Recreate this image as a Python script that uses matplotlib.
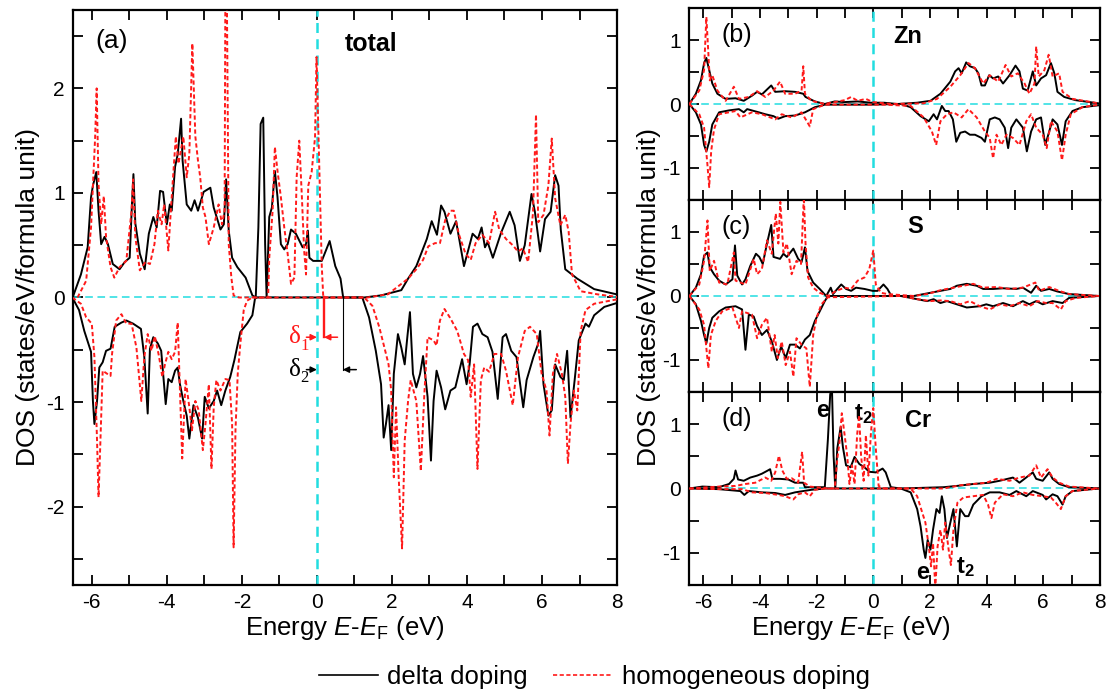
import matplotlib
matplotlib.use('Agg')
import matplotlib.pyplot as plt
from matplotlib.ticker import MultipleLocator
from matplotlib.lines import Line2D

plt.rcParams['font.family'] = ['Liberation Sans', 'DejaVu Sans']
plt.rcParams['axes.unicode_minus'] = False
plt.rcParams['mathtext.fontset'] = 'custom'
plt.rcParams['mathtext.rm'] = 'Liberation Sans'
plt.rcParams['mathtext.it'] = 'Liberation Sans:italic'
plt.rcParams['mathtext.bf'] = 'Liberation Sans:bold'

# ---- DOS curves: (energy in eV, DOS) ----
# panel (a) total
a_delta_up = [(-6.51, 0), (-6.29, 0.22), (-6.11, 0.48), (-6.02, 0.96), (-5.97, 1.07), (-5.88, 1.20),
              (-5.82, 0.83), (-5.75, 0.51), (-5.66, 0.58), (-5.57, 0.51), (-5.44, 0.32), (-5.26, 0.27),
              (-5.12, 0.34), (-4.99, 0.38), (-4.93, 0.89), (-4.89, 1.18), (-4.84, 0.71), (-4.72, 0.42),
              (-4.59, 0.27), (-4.48, 0.61), (-4.36, 0.77), (-4.27, 0.67), (-4.18, 1.02), (-4.10, 1.01),
              (-4.00, 0.70), (-3.92, 0.89), (-3.87, 0.83), (-3.78, 1.25), (-3.71, 1.37), (-3.62, 1.71),
              (-3.58, 1.31), (-3.47, 0.89), (-3.35, 0.83), (-3.26, 0.93), (-3.17, 0.83), (-3.02, 1.01),
              (-2.84, 1.05), (-2.75, 0.86), (-2.57, 0.65), (-2.48, 0.70), (-2.42, 1.13), (-2.35, 0.64),
              (-2.26, 0.38), (-2.12, 0.29), (-1.90, 0.19), (-1.72, 0.02), (-1.63, 0), (-1.56, 0.67),
              (-1.50, 1.66), (-1.43, 1.72), (-1.38, 0.51), (-1.34, 0), (-1.27, 0.77), (-1.20, 0.86),
              (-1.12, 1.21), (-1.05, 0.96), (-0.96, 0.51), (-0.87, 0.46), (-0.78, 0.51), (-0.69, 0.65),
              (-0.56, 0.61), (-0.38, 0.48), (-0.29, 0.51), (-0.24, 0.64), (-0.20, 0.38), (-0.10, 0.35),
              (0.13, 0.35), (0.34, 0.54), (0.49, 0.30), (0.63, 0.18), (0.70, 0), (1.26, 0), (1.71, 0.02),
              (2.25, 0.07), (2.43, 0.18), (2.65, 0.30), (2.93, 0.56), (3.06, 0.73), (3.20, 0.60),
              (3.31, 0.88), (3.40, 0.82), (3.56, 0.61), (3.71, 0.73), (3.92, 0.30), (4.15, 0.61),
              (4.29, 0.56), (4.39, 0.67), (4.48, 0.48), (4.55, 0.53), (4.69, 0.38), (4.91, 0.62),
              (5.14, 0.82), (5.27, 0.69), (5.41, 0.35), (5.54, 0.50), (5.72, 0.99), (5.81, 0.82),
              (5.95, 0.44), (6.08, 0.75), (6.23, 0.82), (6.35, 1.17), (6.44, 1.07), (6.50, 0.65),
              (6.62, 0.27), (6.94, 0.18), (7.39, 0.08), (8.11, 0.02)]
a_delta_dn = [(-6.52, 0), (-6.34, -0.12), (-6.20, -0.32), (-6.02, -0.52), (-5.97, -0.99), (-5.93, -1.21),
              (-5.86, -0.99), (-5.80, -0.67), (-5.71, -0.62), (-5.62, -0.51), (-5.50, -0.49), (-5.39, -0.28),
              (-5.21, -0.24), (-5.08, -0.22), (-4.90, -0.25), (-4.69, -0.30), (-4.60, -0.57), (-4.51, -1.11),
              (-4.45, -0.49), (-4.36, -0.38), (-4.24, -0.44), (-4.15, -0.51), (-4.03, -1.02), (-3.96, -0.78),
              (-3.87, -0.81), (-3.78, -0.70), (-3.71, -0.67), (-3.65, -0.83), (-3.56, -0.99), (-3.47, -1.13),
              (-3.40, -1.35), (-3.29, -1.03), (-3.17, -1.15), (-3.06, -1.35), (-2.99, -0.95), (-2.88, -1.06),
              (-2.75, -0.99), (-2.66, -0.89), (-2.55, -1.03), (-2.44, -0.89), (-2.31, -0.76), (-2.20, -0.60),
              (-2.13, -0.48), (-2.04, -0.33), (-1.86, -0.25), (-1.72, -0.17), (-1.65, -0.01), (-1.59, 0),
              (1.21, 0), (1.39, -0.19), (1.57, -0.51), (1.71, -0.83), (1.78, -1.34), (1.84, -1.21),
              (1.91, -1.03), (1.98, -1.46), (2.05, -0.73), (2.16, -0.35), (2.25, -0.48), (2.34, -0.64),
              (2.41, -0.38), (2.48, -0.14), (2.56, -0.73), (2.65, -0.86), (2.75, -0.73), (2.83, -0.56),
              (2.95, -0.95), (3.04, -1.56), (3.11, -0.99), (3.19, -0.70), (3.31, -0.86), (3.42, -1.07),
              (3.56, -0.89), (3.69, -0.86), (3.87, -0.59), (3.99, -0.83), (4.07, -0.64), (4.16, -0.28),
              (4.28, -0.25), (4.41, -0.35), (4.55, -0.38), (4.68, -0.52), (4.82, -0.97), (4.95, -0.38),
              (5.04, -0.35), (5.18, -0.51), (5.32, -0.57), (5.50, -1.05), (5.59, -0.79), (5.77, -0.57),
              (5.90, -0.44), (5.95, -0.32), (6.04, -0.83), (6.17, -1.13), (6.26, -1.08), (6.35, -0.64),
              (6.49, -0.76), (6.58, -0.79), (6.67, -0.51), (6.76, -1.15), (6.87, -0.79), (6.98, -0.41),
              (7.16, -0.25), (7.25, -0.28), (7.39, -0.17), (7.66, -0.09), (8.11, -0.04)]
a_homo_up = [(-6.38, 0), (-6.15, 0.16), (-6.02, 0.67), (-5.91, 1.54), (-5.87, 2.0), (-5.82, 1.08),
             (-5.75, 0.70), (-5.68, 0.97), (-5.62, 0.58), (-5.50, 0.29), (-5.40, 0.19), (-5.26, 0.29),
             (-5.08, 0.35), (-4.94, 0.83), (-4.90, 1.13), (-4.84, 0.58), (-4.72, 0.26), (-4.57, 0.34),
             (-4.45, 0.32), (-4.33, 0.51), (-4.24, 0.83), (-4.14, 0.70), (-4.07, 0.89), (-3.96, 0.45),
             (-3.87, 0.96), (-3.76, 1.54), (-3.69, 1.28), (-3.56, 1.54), (-3.47, 1.15), (-3.40, 1.37),
             (-3.32, 2.43), (-3.24, 1.54), (-3.17, 1.31), (-3.11, 1.15), (-3.04, 0.86), (-2.97, 0.77),
             (-2.88, 0.51), (-2.75, 0.67), (-2.62, 0.89), (-2.53, 0.70), (-2.46, 0.83), (-2.44, 2.9),
             (-2.40, 2.9), (-2.35, 0.51), (-2.28, 0.19), (-2.22, 0.02), (-2.08, 0), (-1.69, 0),
             (-1.30, 0), (-1.27, 0.38), (-1.18, 0.83), (-1.12, 1.44), (-1.05, 1.21), (-0.96, 0.96),
             (-0.87, 0.67), (-0.78, 0.42), (-0.69, 0.13), (-0.60, 0.19), (-0.54, 1.15), (-0.47, 1.50),
             (-0.40, 0.96), (-0.34, 0.45), (-0.29, 0.22), (-0.23, 1.07), (-0.14, 1.20), (-0.05, 1.53),
             (-0.01, 2.30), (0.06, 1.30), (0.13, 0.30), (0.17, 0), (1.35, 0), (1.89, 0.03), (2.43, 0.18),
             (2.65, 0.27), (2.83, 0.36), (2.97, 0.49), (3.15, 0.52), (3.28, 0.52), (3.42, 0.74),
             (3.56, 0.83), (3.65, 0.83), (3.78, 0.61), (3.96, 0.42), (4.10, 0.36), (4.23, 0.52),
             (4.41, 0.60), (4.59, 0.52), (4.75, 0.82), (4.86, 0.65), (5.04, 0.56), (5.22, 0.50),
             (5.36, 0.44), (5.49, 0.47), (5.63, 0.34), (5.76, 0.81), (5.84, 1.75), (5.90, 0.72),
             (6.04, 0.79), (6.17, 1.07), (6.26, 1.52), (6.35, 0.95), (6.49, 0.69), (6.62, 0.79),
             (6.71, 0.63), (6.80, 0.22), (7.03, 0.06), (7.48, 0.03), (8.11, 0)]
a_homo_dn = [(-6.52, 0), (-6.29, -0.06), (-6.15, -0.19), (-6.00, -0.25), (-5.93, -0.57), (-5.86, -1.37),
             (-5.82, -1.91), (-5.77, -1.37), (-5.71, -0.70), (-5.59, -0.73), (-5.50, -0.75), (-5.46, -0.54),
             (-5.35, -0.22), (-5.21, -0.16), (-5.08, -0.25), (-4.94, -0.25), (-4.81, -0.48), (-4.68, -0.99),
             (-4.60, -0.57), (-4.51, -0.35), (-4.41, -0.51), (-4.32, -0.37), (-4.21, -0.56), (-4.12, -0.76),
             (-4.05, -0.64), (-3.96, -0.52), (-3.87, -0.59), (-3.78, -0.52), (-3.71, -0.24), (-3.65, -0.89),
             (-3.59, -1.54), (-3.50, -0.78), (-3.40, -1.05), (-3.33, -1.27), (-3.24, -0.99), (-3.15, -1.08),
             (-3.04, -1.46), (-2.97, -1.21), (-2.88, -0.83), (-2.81, -1.64), (-2.75, -1.05), (-2.68, -0.79),
             (-2.57, -0.89), (-2.44, -0.78), (-2.33, -0.79), (-2.26, -1.21), (-2.22, -2.39), (-2.17, -1.27),
             (-2.11, -0.73), (-2.04, -0.44), (-1.95, -0.12), (-1.86, -0.03), (-1.72, 0), (1.26, 0),
             (1.48, -0.08), (1.66, -0.28), (1.80, -0.48), (1.91, -0.64), (1.98, -0.89), (2.05, -1.72),
             (2.11, -1.05), (2.18, -1.72), (2.27, -2.40), (2.34, -1.37), (2.43, -0.99), (2.50, -0.79),
             (2.65, -0.99), (2.77, -1.66), (2.86, -0.95), (2.95, -0.38), (3.11, -0.41), (3.19, -0.46),
             (3.28, -0.22), (3.40, -0.11), (3.56, -0.20), (3.74, -0.32), (3.92, -0.54), (4.03, -0.60),
             (4.10, -0.95), (4.19, -0.64), (4.28, -1.64), (4.37, -0.79), (4.46, -0.67), (4.59, -0.71),
             (4.73, -0.54), (4.91, -0.54), (5.04, -0.70), (5.22, -1.03), (5.36, -0.57), (5.54, -0.32),
             (5.68, -0.28), (5.86, -0.35), (5.99, -0.73), (6.12, -0.89), (6.20, -1.32), (6.29, -0.73),
             (6.40, -0.54), (6.53, -0.73), (6.62, -0.95), (6.69, -1.59), (6.76, -1.21), (6.85, -0.89),
             (6.94, -1.08), (7.03, -0.32), (7.16, -0.12), (7.39, -0.06), (8.11, -0.01)]

# panel (b) Zn
b_delta_up = [(-6.49, 0), (-6.26, 0.16), (-6.08, 0.37), (-5.97, 0.64), (-5.89, 0.72), (-5.79, 0.53),
              (-5.68, 0.32), (-5.50, 0.16), (-5.21, 0.08), (-4.86, 0.09), (-4.57, 0.05), (-4.28, 0.13),
              (-4.10, 0.19), (-3.93, 0.15), (-3.60, 0.29), (-3.46, 0.19), (-3.11, 0.20), (-2.76, 0.19),
              (-2.47, 0.16), (-2.39, 0.11), (-2.06, 0.04), (-1.71, 0), (-1.36, 0.04), (-1.01, 0.03),
              (-0.55, 0.04), (-0.08, 0.02), (0.38, 0.02), (0.85, 0), (1.55, 0.02), (2.02, 0.05),
              (2.37, 0.16), (2.72, 0.35), (2.89, 0.51), (3.01, 0.56), (3.12, 0.48), (3.28, 0.65),
              (3.41, 0.59), (3.59, 0.56), (3.71, 0.48), (3.82, 0.29), (3.94, 0.29), (4.09, 0.45),
              (4.23, 0.40), (4.41, 0.43), (4.58, 0.32), (4.81, 0.45), (5.02, 0.60), (5.16, 0.51),
              (5.28, 0.24), (5.45, 0.21), (5.63, 0.51), (5.75, 0.29), (5.92, 0.40), (6.10, 0.45),
              (6.27, 0.64), (6.39, 0.48), (6.50, 0.19), (6.74, 0.11), (7.14, 0.06), (7.96, 0.01)]
b_delta_dn = [(-6.49, 0), (-6.26, -0.13), (-6.08, -0.32), (-5.97, -0.64), (-5.89, -0.74), (-5.79, -0.59),
              (-5.68, -0.32), (-5.44, -0.13), (-5.09, -0.10), (-4.74, -0.08), (-4.57, -0.13), (-4.45, -0.08),
              (-4.04, -0.13), (-3.81, -0.16), (-3.52, -0.19), (-3.35, -0.23), (-3.11, -0.19), (-2.76, -0.18),
              (-2.41, -0.13), (-2.06, -0.05), (-1.71, -0.01), (-0.08, -0.01), (0.97, 0), (1.32, -0.05),
              (1.67, -0.19), (1.96, -0.27), (2.13, -0.16), (2.25, -0.24), (2.42, -0.03), (2.54, -0.11),
              (2.66, -0.11), (2.81, -0.24), (2.93, -0.59), (3.07, -0.45), (3.24, -0.43), (3.41, -0.48),
              (3.59, -0.48), (3.82, -0.53), (3.94, -0.59), (4.11, -0.24), (4.29, -0.21), (4.46, -0.24),
              (4.64, -0.37), (4.76, -0.69), (4.87, -0.37), (5.05, -0.24), (5.28, -0.37), (5.42, -0.74),
              (5.57, -0.43), (5.75, -0.24), (5.92, -0.21), (6.07, -0.64), (6.21, -0.43), (6.33, -0.24),
              (6.50, -0.32), (6.66, -0.64), (6.79, -0.27), (7.03, -0.11), (7.38, -0.05), (7.96, -0.02)]
b_homo_up = [(-6.49, 0), (-6.14, 0.21), (-5.97, 0.53), (-5.89, 1.36), (-5.82, 0.80), (-5.77, 0.37),
             (-5.68, 0.45), (-5.50, 0.21), (-5.21, 0.05), (-4.92, 0.27), (-4.74, 0.08), (-4.39, 0.11),
             (-4.10, 0.20), (-3.81, 0.11), (-3.52, 0.21), (-3.29, 0.35), (-3.11, 0.16), (-2.76, 0.16),
             (-2.53, 0.21), (-2.47, 0.59), (-2.41, 0.16), (-2.18, 0.05), (-1.71, 0), (-1.25, 0.04),
             (-1.01, 0.06), (-0.78, 0.11), (-0.55, 0.05), (-0.26, 0.08), (-0.02, 0.03), (0.62, 0),
             (1.78, 0.01), (2.25, 0.08), (2.72, 0.27), (3.07, 0.45), (3.36, 0.64), (3.59, 0.56),
             (3.88, 0.32), (4.11, 0.45), (4.41, 0.35), (4.67, 0.61), (4.87, 0.43), (5.10, 0.48),
             (5.34, 0.32), (5.51, 0.16), (5.69, 0.32), (5.75, 0.90), (5.84, 0.43), (6.04, 0.53),
             (6.19, 0.77), (6.33, 0.43), (6.56, 0.48), (6.68, 0.19), (7.03, 0.08), (7.96, 0.01)]
b_homo_dn = [(-6.49, 0), (-6.14, -0.16), (-5.97, -0.37), (-5.85, -0.96), (-5.79, -1.30), (-5.72, -0.74),
             (-5.62, -0.40), (-5.44, -0.16), (-4.86, -0.11), (-4.69, -0.21), (-4.28, -0.13), (-3.93, -0.16),
             (-3.46, -0.24), (-3.23, -0.16), (-2.88, -0.21), (-2.53, -0.13), (-2.24, -0.35), (-2.12, -0.08),
             (-1.71, -0.01), (0.38, -0.01), (1.32, -0.03), (1.78, -0.21), (2.07, -0.43), (2.22, -0.64),
             (2.37, -0.27), (2.60, -0.16), (2.83, -0.13), (3.12, -0.21), (3.36, -0.08), (3.65, -0.21),
             (3.94, -0.43), (4.11, -0.53), (4.23, -0.85), (4.35, -0.48), (4.52, -0.64), (4.70, -0.48),
             (4.93, -0.53), (5.16, -0.64), (5.40, -0.27), (5.57, -0.16), (5.75, -0.37), (5.98, -0.48),
             (6.12, -0.69), (6.27, -0.27), (6.50, -0.43), (6.66, -0.88), (6.79, -0.48), (6.97, -0.16),
             (7.38, -0.05), (7.96, -0.01)]

# panel (c) S
c_delta_up = [(-6.49, 0), (-6.26, 0.13), (-6.08, 0.34), (-5.97, 0.63), (-5.85, 0.68), (-5.77, 0.45),
              (-5.62, 0.34), (-5.44, 0.24), (-5.21, 0.18), (-4.97, 0.26), (-4.88, 0.79), (-4.80, 0.32),
              (-4.63, 0.18), (-4.51, 0.26), (-4.34, 0.47), (-4.14, 0.66), (-4.02, 0.61), (-3.90, 0.50),
              (-3.75, 0.82), (-3.60, 1.11), (-3.52, 0.61), (-3.29, 0.58), (-3.17, 0.66), (-3.05, 0.61),
              (-2.82, 0.74), (-2.65, 0.58), (-2.53, 0.53), (-2.41, 0.76), (-2.32, 0.39), (-2.12, 0.21),
              (-1.89, 0.11), (-1.66, 0), (-1.50, 0.13), (-1.42, 0.03), (-1.27, 0.11), (-1.13, 0.18),
              (-0.96, 0.11), (-0.78, 0.08), (-0.61, 0.13), (-0.31, 0.11), (-0.02, 0.08), (0.15, 0.08),
              (0.36, 0.18), (0.50, 0.11), (0.64, 0), (1.43, 0), (1.90, 0.04), (2.37, 0.08), (2.72, 0.11),
              (2.95, 0.16), (3.30, 0.19), (3.65, 0.16), (3.88, 0.11), (4.23, 0.11), (4.58, 0.12),
              (5.05, 0.11), (5.28, 0.13), (5.57, 0.05), (5.75, 0.16), (5.92, 0.08), (6.21, 0.11),
              (6.50, 0.07), (6.91, 0.03), (7.96, 0)]
c_delta_dn = [(-6.49, 0), (-6.26, -0.13), (-6.08, -0.39), (-5.97, -0.61), (-5.89, -0.74), (-5.79, -0.50),
              (-5.68, -0.34), (-5.44, -0.24), (-5.21, -0.18), (-4.86, -0.16), (-4.63, -0.21), (-4.51, -0.84),
              (-4.39, -0.29), (-4.22, -0.32), (-4.10, -0.47), (-3.93, -0.61), (-3.75, -0.53), (-3.58, -0.71),
              (-3.40, -1.00), (-3.25, -0.79), (-3.09, -0.97), (-2.94, -0.76), (-2.76, -0.76), (-2.59, -0.82),
              (-2.41, -0.68), (-2.24, -0.61), (-2.06, -0.39), (-1.89, -0.24), (-1.71, -0.08), (-1.60, 0),
              (0.97, 0), (1.55, -0.05), (1.90, -0.08), (2.13, -0.05), (2.37, -0.11), (2.60, -0.08),
              (2.95, -0.13), (3.30, -0.18), (3.53, -0.17), (3.76, -0.16), (3.99, -0.13), (4.23, -0.16),
              (4.58, -0.11), (4.93, -0.16), (5.28, -0.08), (5.51, -0.13), (5.75, -0.08), (5.98, -0.13),
              (6.33, -0.08), (6.68, -0.11), (6.91, -0.03), (7.96, 0)]
c_homo_up = [(-6.49, 0), (-6.14, 0.18), (-5.97, 0.55), (-5.85, 1.18), (-5.77, 0.39), (-5.62, 0.55),
             (-5.44, 0.21), (-5.15, 0.18), (-4.92, 0.68), (-4.86, 0.24), (-4.51, 0.18), (-4.22, 0.58),
             (-4.10, 0.34), (-3.93, 0.42), (-3.75, 0.87), (-3.58, 0.66), (-3.44, 1.29), (-3.35, 0.82),
             (-3.28, 1.47), (-3.17, 0.68), (-3.05, 0.82), (-2.88, 0.34), (-2.71, 0.55), (-2.55, 0.50),
             (-2.45, 1.55), (-2.39, 0.82), (-2.30, 0.29), (-2.12, 0.13), (-1.89, 0.05), (-1.60, 0),
             (-1.31, 0.08), (-1.01, 0.13), (-0.78, 0.11), (-0.55, 0.24), (-0.31, 0.29), (-0.14, 0.42),
             (0.00, 0.71), (0.09, 0.18), (0.27, 0.05), (0.50, 0.03), (1.43, 0), (1.90, 0.03),
             (2.37, 0.09), (2.83, 0.13), (3.18, 0.16), (3.53, 0.19), (3.88, 0.13), (4.35, 0.14),
             (4.81, 0.11), (5.28, 0.13), (5.72, 0.21), (5.86, 0.08), (6.21, 0.14), (6.56, 0.08),
             (6.91, 0.03), (7.96, 0)]
c_homo_dn = [(-6.49, 0), (-6.14, -0.21), (-5.97, -0.45), (-5.82, -1.13), (-5.73, -0.61), (-5.56, -0.39),
             (-5.33, -0.24), (-4.97, -0.18), (-4.74, -0.50), (-4.63, -0.24), (-4.28, -0.29), (-4.10, -0.66),
             (-3.93, -0.45), (-3.75, -0.34), (-3.58, -0.87), (-3.48, -0.61), (-3.37, -0.97), (-3.23, -0.71),
             (-3.09, -1.08), (-2.94, -0.87), (-2.82, -1.26), (-2.71, -0.66), (-2.53, -0.76), (-2.36, -0.82),
             (-2.24, -1.42), (-2.12, -0.61), (-2.00, -0.34), (-1.83, -0.13), (-1.60, -0.02), (0.97, 0),
             (1.55, -0.05), (2.02, -0.08), (2.37, -0.07), (2.72, -0.08), (3.07, -0.13), (3.41, -0.08),
             (3.76, -0.16), (4.11, -0.21), (4.46, -0.13), (4.81, -0.16), (5.16, -0.11), (5.51, -0.16),
             (5.80, -0.08), (6.10, -0.11), (6.33, -0.11), (6.62, -0.21), (6.79, -0.08), (7.14, -0.03),
             (7.96, 0)]

# panel (d) Cr
d_delta_up = [(-6.49, 0), (-6.03, 0.03), (-5.45, 0.02), (-5.09, 0.07), (-4.92, 0.15), (-4.86, 0.28),
              (-4.77, 0.14), (-4.57, 0.12), (-4.34, 0.17), (-4.10, 0.20), (-3.93, 0.23), (-3.72, 0.28),
              (-3.64, 0.30), (-3.56, 0.15), (-3.29, 0.15), (-3.00, 0.14), (-2.76, 0.09), (-2.47, 0.09),
              (-2.41, 0.02), (-1.95, 0.02), (-1.71, 0.02), (-1.60, 0.77), (-1.52, 1.46), (-1.46, 1.6),
              (-1.40, 0.51), (-1.34, 0), (-1.27, 0.62), (-1.15, 0.96), (-1.07, 0.64), (-0.96, 0.36),
              (-0.80, 0.33), (-0.66, 0.49), (-0.49, 0.38), (-0.31, 0.33), (-0.14, 0.26), (0.09, 0.25),
              (0.33, 0.31), (0.44, 0.25), (0.62, 0.02), (0.97, 0), (2.48, 0.02), (2.95, 0.04),
              (3.53, 0.07), (4.11, 0.09), (4.46, 0.12), (4.93, 0.17), (5.16, 0.09), (5.63, 0.25),
              (5.75, 0.15), (5.98, 0.12), (6.21, 0.25), (6.33, 0.15), (6.56, 0.07), (6.91, 0.02), (7.96, 0)]
d_delta_dn = [(-6.49, 0), (-5.45, -0.01), (-4.69, -0.04), (-4.55, -0.10), (-4.39, -0.04), (-3.93, -0.06),
              (-3.46, -0.07), (-3.11, -0.10), (-2.76, -0.06), (-2.18, -0.02), (-1.71, 0), (0.97, 0),
              (1.32, -0.06), (1.55, -0.32), (1.67, -0.59), (1.78, -0.95), (1.84, -1.08), (1.92, -0.80),
              (2.02, -0.95), (2.11, -0.64), (2.23, -0.32), (2.34, -0.38), (2.42, -0.12), (2.51, -0.32),
              (2.60, -0.77), (2.72, -0.53), (2.83, -0.32), (2.95, -0.90), (3.07, -0.32), (3.24, -0.43),
              (3.36, -0.43), (3.53, -0.25), (3.82, -0.12), (4.11, -0.06), (4.46, -0.06), (4.81, -0.10),
              (5.05, -0.04), (5.40, -0.12), (5.63, -0.04), (5.98, -0.10), (6.10, -0.17), (6.33, -0.09),
              (6.50, -0.12), (6.68, -0.25), (6.79, -0.12), (7.03, -0.04), (7.96, 0)]
d_homo_up = [(-6.49, 0), (-5.45, 0.03), (-4.86, 0.04), (-4.51, 0.07), (-4.16, 0.09), (-3.81, 0.17),
             (-3.60, 0.12), (-3.46, 0.25), (-3.33, 0.51), (-3.21, 0.28), (-3.05, 0.15), (-2.88, 0.16),
             (-2.65, 0.09), (-2.51, 0.57), (-2.44, 0.09), (-2.24, 0.03), (-1.60, 0), (-1.36, 0),
             (-1.27, 0.46), (-1.19, 0.72), (-1.11, 1.17), (-1.01, 0.83), (-0.92, 0.51), (-0.84, 0.07),
             (-0.75, 0.36), (-0.66, 0.07), (-0.57, 0.83), (-0.50, 1.14), (-0.43, 0.51), (-0.34, 0.12),
             (-0.26, 0.83), (-0.17, 0.20), (-0.08, 0.88), (0.00, 1.25), (0.09, 0.62), (0.19, 0.04),
             (0.38, 0), (2.48, 0), (3.07, 0.05), (3.53, 0.07), (4.00, 0.09), (4.35, 0.15), (4.81, 0.12),
             (5.16, 0.17), (5.51, 0.20), (5.75, 0.36), (5.92, 0.17), (6.15, 0.30), (6.33, 0.17),
             (6.56, 0.09), (6.91, 0.03), (7.96, 0)]
d_homo_dn = [(-6.49, 0), (-5.45, -0.01), (-4.63, -0.01), (-4.28, -0.06), (-3.81, -0.07), (-3.35, -0.10),
             (-3.11, -0.12), (-2.82, -0.17), (-2.65, -0.09), (-2.41, -0.06), (-2.24, -0.12), (-2.06, -0.02),
             (-1.71, 0), (1.32, 0), (1.55, -0.12), (1.69, -0.32), (1.84, -0.53), (1.96, -0.90),
             (2.04, -1.21), (2.11, -0.85), (2.19, -1.55), (2.27, -0.90), (2.37, -0.64), (2.46, -0.95),
             (2.54, -0.53), (2.66, -0.95), (2.74, -1.19), (2.83, -0.64), (2.97, -0.22), (3.18, -0.14),
             (3.53, -0.12), (3.88, -0.10), (4.05, -0.25), (4.17, -0.46), (4.29, -0.22), (4.58, -0.09),
             (4.93, -0.12), (5.28, -0.06), (5.63, -0.10), (5.98, -0.12), (6.27, -0.14), (6.44, -0.22),
             (6.62, -0.32), (6.79, -0.12), (7.03, -0.04), (7.96, 0)]

# band-gap markers in panel (a): edge energy and depth of the marker line
delta1_edge, delta1_depth = 0.19, -0.38
delta2_edge, delta2_depth = 0.69, -0.69

BLACK = 'black'
RED = '#ff1a1a'
CYAN = '#22dde0'
DASH = (2.2, 1.4)
SERIF = ['Liberation Serif', 'DejaVu Serif']


def draw_curves(ax, delta_up, delta_dn, homo_up, homo_dn):
    for curve in (delta_up, delta_dn):
        e, d = zip(*curve)
        ax.plot(e, d, color=BLACK, lw=1.4, zorder=3)
    for curve in (homo_up, homo_dn):
        e, d = zip(*curve)
        ax.plot(e, d, color=RED, lw=1.4, dashes=DASH, zorder=4)
    ax.axhline(0, color=CYAN, lw=1.1, dashes=(5, 3), zorder=2)
    ax.axvline(0, color=CYAN, lw=1.8, dashes=(4, 2.5), zorder=2)


def style_axes(ax, ymax, show_xlabels=True):
    ax.set_xlim(-6.5, 8)
    ax.set_ylim(-ymax, ymax)
    ax.xaxis.set_major_locator(MultipleLocator(2))
    ax.xaxis.set_minor_locator(MultipleLocator(1))
    ax.yaxis.set_major_locator(MultipleLocator(1))
    ax.yaxis.set_minor_locator(MultipleLocator(0.5))
    ax.tick_params(which='both', direction='in', top=True, right=True, width=1.3, labelsize=15)
    ax.tick_params(which='major', length=7, pad=6)
    ax.tick_params(which='minor', length=7)
    if not show_xlabels:
        ax.tick_params(labelbottom=False)
    for s in ax.spines.values():
        s.set_linewidth(1.6)


def gap_marker(ax, edge, depth, color, lw, label, sub, text_x):
    ax.plot([edge, edge], [0, depth], color=color, lw=lw, zorder=5)
    arrow = dict(arrowstyle='-|>', color=color, lw=1.1, mutation_scale=9, shrinkA=0, shrinkB=0)
    ax.annotate('', xy=(0, depth), xytext=(-0.28, depth), arrowprops=arrow)
    ax.annotate('', xy=(edge, depth), xytext=(edge + 0.36, depth), arrowprops=arrow)
    ax.text(text_x, depth, label, color=color, fontsize=18, ha='right', va='center', family=SERIF)
    ax.text(text_x - 0.02, depth - 0.08, sub, color=color, fontsize=12, ha='left', va='center',
            family=SERIF)


fig = plt.figure(figsize=(11.15, 6.98), dpi=100)

# panel (a)
ax_a = fig.add_axes([0.0655, 0.1619, 0.4879, 0.8238])
draw_curves(ax_a, a_delta_up, a_delta_dn, a_homo_up, a_homo_dn)
style_axes(ax_a, 2.75)
ax_a.text(-5.9, 2.45, '(a)', fontsize=19, va='center')
ax_a.text(0.75, 2.42, 'total', fontsize=18, fontweight='bold', va='center')
gap_marker(ax_a, delta1_edge, delta1_depth, RED, 1.7, 'δ', '1', -0.42)
gap_marker(ax_a, delta2_edge, delta2_depth, BLACK, 0.8, 'δ', '2', -0.42)

# panels (b), (c), (d)
right_panels = [
    ([0.618, 0.7135, 0.3685, 0.2750], b_delta_up, b_delta_dn, b_homo_up, b_homo_dn, '(b)', 'Zn'),
    ([0.618, 0.4384, 0.3685, 0.2751], c_delta_up, c_delta_dn, c_homo_up, c_homo_dn, '(c)', 'S'),
    ([0.618, 0.1619, 0.3685, 0.2765], d_delta_up, d_delta_dn, d_homo_up, d_homo_dn, '(d)', 'Cr'),
]
axes_r = []
for rect, du, dd, hu, hd, tag, name in right_panels:
    ax = fig.add_axes(rect)
    draw_curves(ax, du, dd, hu, hd)
    style_axes(ax, 1.5, show_xlabels=(tag == '(d)'))
    ax.text(-5.35, 1.08, tag, fontsize=18, va='center')
    axes_r.append(ax)

axes_r[0].text(0.7, 1.05, 'Zn', fontsize=17, fontweight='bold', va='center')
axes_r[1].text(1.2, 1.08, 'S', fontsize=17, fontweight='bold', va='center')
ax_d = axes_r[2]
ax_d.text(1.6, 1.06, 'Cr', fontsize=17, fontweight='bold', va='center', ha='center')
ax_d.text(-1.8, 1.21, 'e', fontsize=17, fontweight='bold', va='center', ha='center')
ax_d.text(-0.35, 1.15, r'$\mathbf{t}_\mathbf{2}$', fontsize=17, va='center', ha='center')
ax_d.text(1.75, -1.30, 'e', fontsize=17, fontweight='bold', va='center', ha='center')
ax_d.text(3.25, -1.22, r'$\mathbf{t}_\mathbf{2}$', fontsize=17, va='center', ha='center')

# shared labels
ylab = 'DOS (states/eV/formula unit)'
fig.text(0.025, 0.5745, ylab, rotation=90, fontsize=19, ha='center', va='center')
fig.text(0.582, 0.5745, ylab, rotation=90, fontsize=19, ha='center', va='center')
xlab = r'Energy $\mathit{E}$-$\mathit{E}_\mathrm{F}$ (eV)'
fig.text(0.309, 0.100, xlab, fontsize=18.5, ha='center', va='center')
fig.text(0.763, 0.100, xlab, fontsize=18.5, ha='center', va='center')

handles = [Line2D([], [], color=BLACK, lw=1.2),
           Line2D([], [], color=RED, lw=1.2, dashes=(2.5, 1.5))]
fig.legend(handles, ['delta doping', 'homogeneous doping'], loc='center',
           bbox_to_anchor=(0.533, 0.030), ncol=2, frameon=False, fontsize=18.5,
           handlelength=2.3, columnspacing=1.0, handletextpad=0.35)

fig.savefig('out.png', dpi=100)
